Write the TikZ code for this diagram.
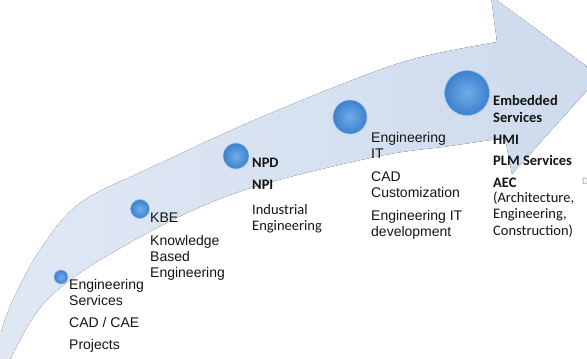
\documentclass[tikz,border=0pt]{standalone}
\usepackage{fontspec}
\setmainfont{Liberation Sans}
\newfontfamily\calfont{Carlito}
\definecolor{bandL}{RGB}{224,232,244}
\definecolor{bandR}{RGB}{205,219,238}
\definecolor{ballin}{RGB}{112,172,234}
\definecolor{ballout}{RGB}{62,128,204}
\definecolor{ballrim}{RGB}{150,192,238}
\definecolor{txt}{RGB}{20,20,20}
\definecolor{faint}{RGB}{150,175,210}
\begin{document}
\begin{tikzpicture}[x=1pt,y=-1pt,
  lbl/.style={anchor=base west, inner sep=0pt, text=txt, font=\fontsize{14}{16}\selectfont},
  cbl/.style={anchor=base west, inner sep=0pt, text=txt, font=\calfont\bfseries\fontsize{14.5}{16}\selectfont},
  crl/.style={anchor=base west, inner sep=0pt, text=txt, font=\calfont\fontsize{14.5}{16}\selectfont},
  bead/.style={circle, inner sep=0pt, inner color=ballin, outer color=ballout, draw=ballrim, line width=0.6pt}]
\useasboundingbox (0,0) rectangle (587,359);
\clip (0,0) rectangle (587,359);
% curved arrow
\fill[left color=bandL, right color=bandR]
  plot[smooth, tension=0.6] coordinates {(-6,372) (0,336) (13,300) (40,250) (80,203) (150,168) (250,122) (350,81) (417,58) (497,42)}
  -- (491,-4) -- (600,76) -- (512,174) -- (505,138)
  -- plot[smooth, tension=0.6] coordinates {(505,138) (450,146) (370,158) (230,195) (117,250) (47,300) (10,359) (4,372)}
  -- cycle;
% beads
\node[bead, minimum size=14pt] (b1) at (61,277) {};
\node[bead, minimum size=19pt] (b2) at (140,209) {};
\node[bead, minimum size=26pt] (b3) at (236,156) {};
\node[bead, minimum size=34pt] (b4) at (350,117) {};
\node[bead, minimum size=45pt] (b5) at (467,93) {};
% group 1
\node[lbl] (a1) at (69,289) {Engineering};
\node[lbl] (a2) at (69,305) {Services};
\node[lbl] (a3) at (69,327) {CAD / CAE};
\node[lbl] (a4) at (69,349) {Projects};
% group 2
\node[lbl] (k1) at (150,222) {KBE};
\node[lbl] (k2) at (150,245) {Knowledge};
\node[lbl] (k3) at (150,261) {Based};
\node[lbl] (k4) at (150,277) {Engineering};
% group 3
\node[cbl] (n1) at (252,167) {NPD};
\node[cbl] (n2) at (252,189) {NPI};
\node[crl] (n3) at (252,214) {Industrial};
\node[crl] (n4) at (252,230) {Engineering};
% group 4
\node[lbl] (e1) at (371,142) {Engineering};
\node[lbl] (e2) at (371,158) {IT};
\node[lbl] (e3) at (371,181) {CAD};
\node[lbl] (e4) at (371,197) {Customization};
\node[lbl] (e5) at (371,220) {Engineering IT};
\node[lbl] (e6) at (371,236) {development};
% group 5
\node[cbl] (m1) at (493,105) {Embedded};
\node[cbl] (m2) at (493,122) {Services};
\node[cbl] (m3) at (493,144) {HMI};
\node[cbl] (m4) at (493,165) {PLM Services};
\node[cbl] (m5) at (493,187) {AEC};
\node[crl] (m6) at (493,202) {(Architecture,};
\node[crl] (m7) at (493,218) {Engineering,};
\node[crl] (m8) at (493,235) {Construction)};
% cut-off glyph at right edge
\node[anchor=base west, inner sep=0pt, text=faint, font=\calfont\fontsize{10}{12}\selectfont] (dd) at (582,184) {D};
\end{tikzpicture}
\end{document}
